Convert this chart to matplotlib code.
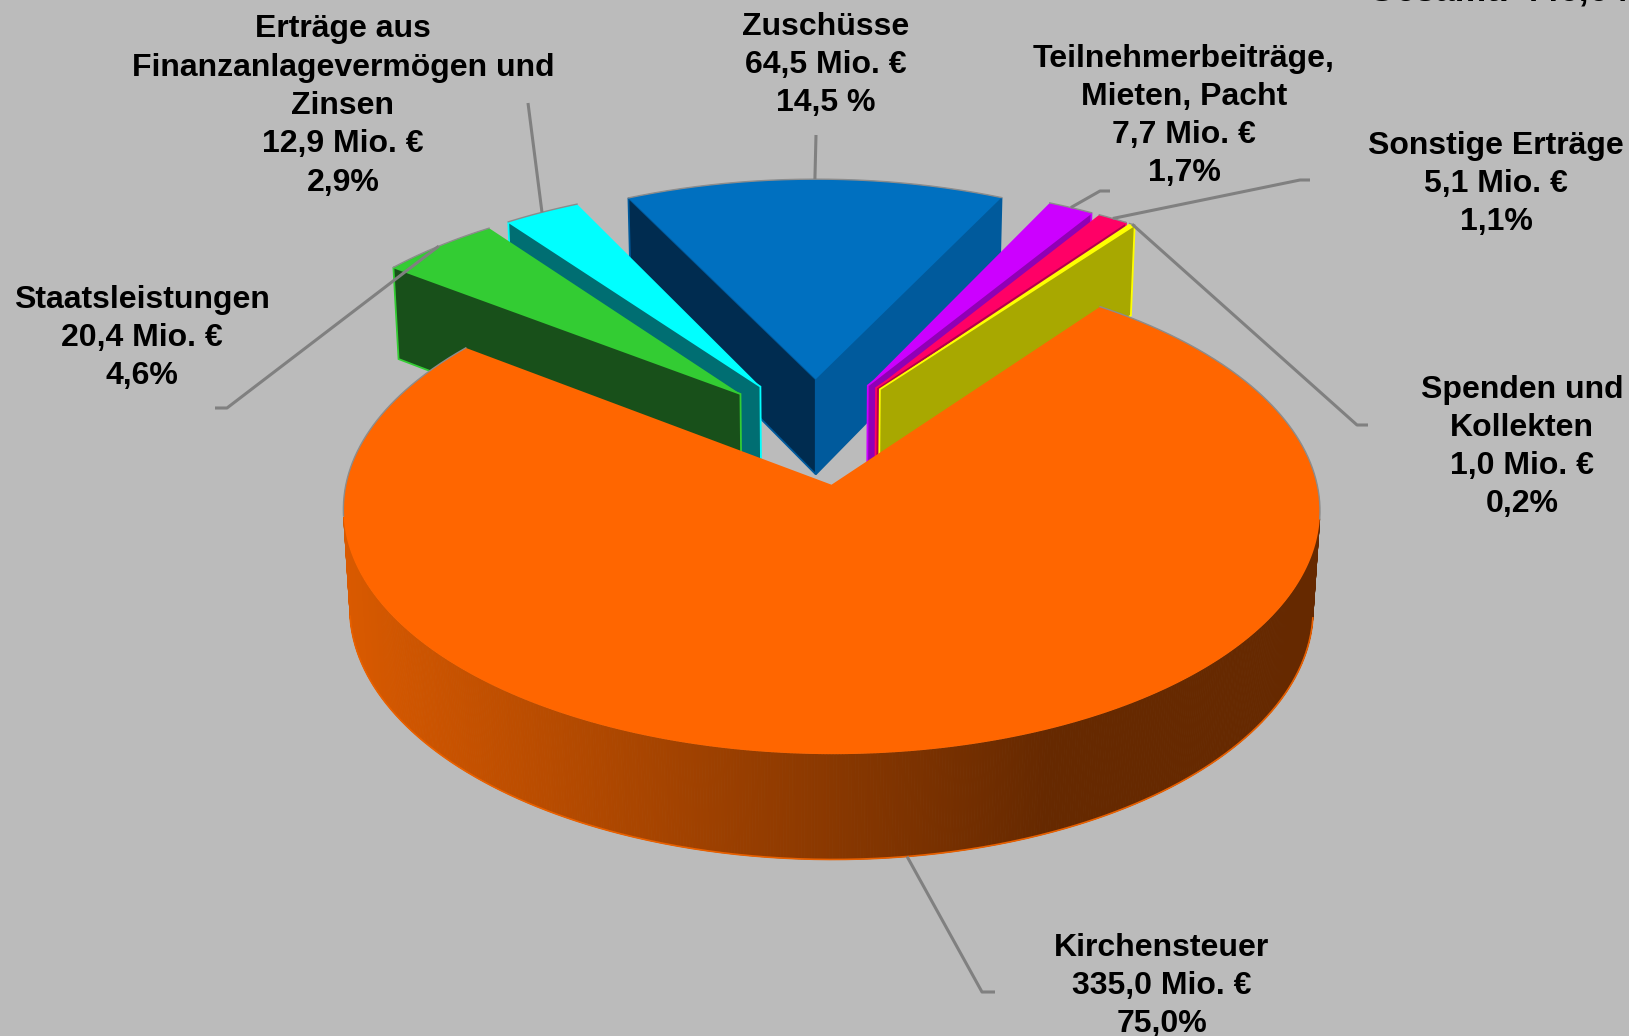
import numpy as np
import matplotlib
matplotlib.use("Agg")
import matplotlib.pyplot as plt
from matplotlib.patches import Polygon
import matplotlib.colors as mcolors

# ---------------- data (counter-clockwise order, from the right edge of "Kirchensteuer")
categories = ["Spenden und\nKollekten", "Sonstige Erträge", "Teilnehmerbeiträge,\nMieten, Pacht",
              "Zuschüsse", "Erträge aus\nFinanzanlagevermögen und\nZinsen", "Staatsleistungen",
              "Kirchensteuer"]
values = [1.0, 5.1, 7.7, 64.5, 12.9, 20.4, 335.0]          # Mio. €
percent_labels = ["0,2%", "1,1%", "1,7%", "14,5 %", "2,9%", "4,6%", "75,0%"]

# ---------------- style
BG = "#BBBBBB"
top_colors = ["#FFFF00", "#FF0066", "#CC00FF", "#0070C0", "#00FFFF", "#33CC33", "#FF6600"]
start_face_colors = ["#A8A800", "#B3004A", "#9000B5", "#005A9C", "#006E72", "#1A5216", "#8A3800"]
end_face_colors = ["#8A8A00", "#99003D", "#7A0099", "#002C50", "#006E72", "#18501A", "#8A3800"]
face_edge_colors = ["#FFFF00", "#FF0066", "#CC00FF", "#005A9C", "#00FFFF", "#33CC33", "#FF6600"]
label_pos = [(1522, 447), (1496, 184), (1184, 116), (826, 65), (343, 106), (142, 338), (1162, 986)]
leader_pts = [[(1368, 425), (1357, 425)], [(1310, 180), (1300, 180)], [(1110, 191), (1100, 191)],
              [(816, 135)], [(528, 103)], [(215, 408), (227, 408)], [(995, 992), (982, 992)]]

W, HPX = 1629, 1036
EL = np.radians(29.05)
DIST, SCALE, CX, CY = 8.6, 4080.0, 816.0, 431.0
THICK, EXPLODE, START = 0.236, 0.23, 53.0
ce, se = np.cos(EL), np.sin(EL)

FONT = ["Liberation Sans", "DejaVu Sans"]
FS = 23
LS = 1.36


def proj(X, Y, Z):
    X = np.asarray(X, float); Y = np.asarray(Y, float); Z = np.asarray(Z, float)
    d = DIST + Y * ce - Z * se
    return CX + SCALE * X / d, CY - SCALE * (Y * se + Z * ce) / d


def poly(xs, ys, zs):
    px, py = proj(xs, ys, zs)
    return np.column_stack([px, py])


fig = plt.figure(figsize=(W / 100, HPX / 100), dpi=100)
fig.patch.set_facecolor(BG)
ax = fig.add_axes([0, 0, 1, 1])
ax.set_xlim(0, W)
ax.set_ylim(HPX, 0)
ax.axis("off")

total = float(np.sum(values))
fracs = np.array(values) / total
bounds = START + 360.0 * np.concatenate([[0.0], np.cumsum(fracs)])

slices = []
for i in range(len(values)):
    a0, a1 = bounds[i], bounds[i + 1]
    m = 0.5 * (a0 + a1)
    ox, oy = EXPLODE * np.cos(np.radians(m)), EXPLODE * np.sin(np.radians(m))
    slices.append((i, a0, a1, m, ox, oy))

order = sorted(slices, key=lambda s: -np.sin(np.radians(s[3])))

dark_left = np.array(mcolors.to_rgb("#DA5A00"))
dark_right = np.array(mcolors.to_rgb("#662900"))

for (i, a0, a1, m, ox, oy) in order:
    n = max(6, int((a1 - a0) * 3))
    t = np.radians(np.linspace(a0, a1, n + 1))
    rx, ry = ox + np.cos(t), oy + np.sin(t)
    # ---- outer curved side
    tm = 0.5 * (t[:-1] + t[1:])
    vis = (-DIST * ce * np.sin(tm) - (ox * np.cos(tm) + oy * np.sin(tm) + 1.0)) > 0
    if vis.any():
        txs, _ = proj(rx, ry, np.zeros_like(rx))
        idx = np.where(vis)[0]
        xl, xr = txs[idx].min(), txs[idx + 1].max()
        for k in idx:
            q = poly([rx[k], rx[k + 1], rx[k + 1], rx[k]],
                     [ry[k], ry[k + 1], ry[k + 1], ry[k]],
                     [0, 0, -THICK, -THICK])
            xm = q[:, 0].mean()
            f = np.clip((xm - xl) / (xr - xl) / 0.72, 0, 1)
            col = dark_left * (1 - f) + dark_right * f
            ax.add_patch(Polygon(q, closed=True, facecolor=col, edgecolor=col, lw=0.6,
                                 zorder=1))
        kk = np.concatenate([idx, [idx[-1] + 1]])
        bx, by = proj(rx[kk], ry[kk], -THICK * np.ones(len(kk)))
        ax.plot(bx, by, color="#E86000", lw=1.2, zorder=1.1)
    # ---- radial faces
    for ang, nang, col in ((a0, a0 - 90, start_face_colors[i]), (a1, a1 + 90, end_face_colors[i])):
        nr = np.radians(nang)
        if -DIST * ce * np.sin(nr) - (ox * np.cos(nr) + oy * np.sin(nr)) > 0:
            ar = np.radians(ang)
            ex, ey = ox + np.cos(ar), oy + np.sin(ar)
            q = poly([ox, ex, ex, ox], [oy, ey, ey, oy], [0, 0, -THICK, -THICK])
            ax.add_patch(Polygon(q, closed=True, facecolor=col, edgecolor=face_edge_colors[i],
                                 lw=1.3, zorder=1))
    # ---- top face
    top = poly(np.concatenate([[ox], rx]), np.concatenate([[oy], ry]), np.zeros(n + 2))
    ax.add_patch(Polygon(top, closed=True, facecolor=top_colors[i], edgecolor="none", zorder=1))
    rim_vis = (-DIST * ce * np.sin(t) - (ox * np.cos(t) + oy * np.sin(t) + 1.0)) > 0
    tx, ty = proj(rx, ry, np.zeros_like(rx))
    seg_x, seg_y = [], []
    for k in range(len(t)):
        if not rim_vis[k]:
            seg_x.append(tx[k]); seg_y.append(ty[k])
        else:
            if len(seg_x) > 1:
                ax.plot(seg_x, seg_y, color="#8C8C8C", lw=1.0, zorder=1.2)
            seg_x, seg_y = [], []
    if len(seg_x) > 1:
        ax.plot(seg_x, seg_y, color="#8C8C8C", lw=1.0, zorder=1.2)

# ---------------- leader lines and labels
for (i, a0, a1, m, ox, oy) in slices:
    mr = np.radians(m)
    z = 0.0 if np.sin(mr) > 0 else -THICK
    axp, ayp = proj(ox + np.cos(mr), oy + np.sin(mr), z)
    pts = leader_pts[i] + [(float(axp), float(ayp))]
    ax.plot([p[0] for p in pts], [p[1] for p in pts], color="#808080", lw=2.2,
            solid_capstyle="butt", zorder=5)
    txt = "%s\n%s Mio. €\n%s" % (categories[i], ("%.1f" % values[i]).replace(".", ","),
                                 percent_labels[i])
    ax.text(label_pos[i][0], label_pos[i][1], txt, ha="center", va="center",
            multialignment="center", fontsize=FS, fontweight="bold", family=FONT,
            linespacing=LS, color="black", zorder=6)

ax.text(1368, 0, "Gesamt: %s Mio. €" % ("%.1f" % total).replace(".", ","), ha="left",
        va="baseline", fontsize=25.5, fontweight="bold", family=FONT, color="black", zorder=6)

fig.savefig("out.png", dpi=100, facecolor=fig.get_facecolor())
